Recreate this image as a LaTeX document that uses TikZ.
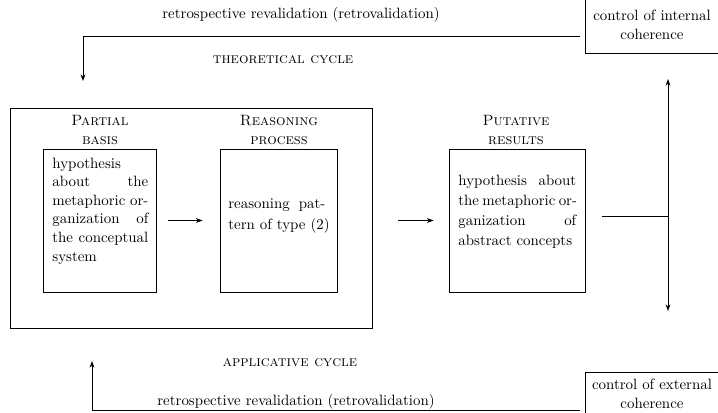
\documentclass[tikz,border=0pt]{standalone}
\usetikzlibrary{arrows.meta}
% one drawing unit
\newcommand\pxu{0.67pt}
% a fully justified line of the given width
\newcommand\jline[2]{\makebox[#1][s]{#2}}
\begin{document}
\begin{tikzpicture}[x=\pxu,y=-\pxu,
  line width=0.5pt,
  >={Stealth[length=4.5pt,width=3.2pt]},
  frame/.style={draw,inner sep=0pt},
  stagebox/.style={frame,minimum height={143*\pxu}},
  boxtext/.style={inner sep=0pt,align=left,anchor=west},
  heading/.style={align=center,inner sep=0pt},
  cyclelabel/.style={inner sep=0pt},
  ctrlbox/.style={frame,align=center,minimum width={134*\pxu}},
  plain/.style={inner sep=0pt}]
\useasboundingbox (0,0) rectangle (718,412);
\clip (0,0) rectangle (718,412);

% theoretical cycle (top)
\node[ctrlbox,minimum height={56*\pxu}] (ctrlint) at (652,25) {control of internal\\[1pt]coherence};
\node[plain] (retrotop) at (301,15) {retrospective revalidation (retrovalidation)};
\node[cyclelabel] (theo) at (283,60) {\textsc{theoretical cycle}};
\coordinate (topcorner) at (83,36);
\coordinate (topend) at (83,81);
\draw[->] ([xshift=-5*\pxu]ctrlint.west |- topcorner) -- (topcorner) -- (topend);

% partial basis and reasoning process
\node[frame,minimum width={362*\pxu},minimum height={220*\pxu}] (basis) at (191,218) {};
\node[stagebox,minimum width={113*\pxu}] (pb) at (99.5,220.5) {};
\node[stagebox,minimum width={117*\pxu}] (rp) at (278.5,220.5) {};
\node[stagebox,minimum width={136*\pxu}] (pr) at (517,220.5) {};

\node[heading] (pbh) at (100,130) {\textsc{Partial}\\[0.5pt]\textsc{basis}};
\node[heading] (rph) at (279,130) {\textsc{Reasoning}\\[0.5pt]\textsc{process}};
\node[heading] (prh) at (516,130) {\textsc{Putative}\\[0.5pt]\textsc{results}};

\node[boxtext,font=\fontsize{10}{12.5}\selectfont] (pbt) at (52,211)
  {hypothesis\\\jline{64.3pt}{about the}\\\jline{64.3pt}{metaphoric or-}\\
   \jline{64.3pt}{ganization of}\\\jline{64.3pt}{the conceptual}\\system};
\node[boxtext,font=\fontsize{10}{13.5}\selectfont] (rpt) at (228,216)
  {\jline{65pt}{reasoning pat-}\\tern of type (2)};
\node[boxtext,font=\fontsize{10}{13.5}\selectfont] (prt) at (458,212)
  {\jline{79pt}{hypothesis about}\\\jline{79pt}{the metaphoric or-}\\
   \jline{79pt}{ganization of}\\abstract concepts};

\draw[->,shorten <=12*\pxu,shorten >=17*\pxu] (pb.east) -- (rp.west);
\draw[->,shorten <=26*\pxu,shorten >=15*\pxu] (basis.east |- pr.west) -- (pr.west);

% branching to both controls
\coordinate (junction) at (668,216);
\coordinate (upend) at (668,79);
\coordinate (downend) at (668,311);
\draw[shorten <=17*\pxu] (pr.east |- junction) -- (junction);
\draw[->] (junction) -- (upend);
\draw[->] (junction) -- (downend);

% applicative cycle (bottom)
\node[ctrlbox,minimum height={44*\pxu}] (ctrlext) at (652,394) {control of external\\[1pt]coherence};
\node[cyclelabel] (appl) at (290,363) {\textsc{applicative cycle}};
\node[plain] (retrobot) at (296,402) {retrospective revalidation (retrovalidation)};
\coordinate (botcorner) at (92,410);
\coordinate (botend) at (92,361);
\draw[->] ([xshift=-5*\pxu]ctrlext.west |- botcorner) -- (botcorner) -- (botend);
\end{tikzpicture}
\end{document}
